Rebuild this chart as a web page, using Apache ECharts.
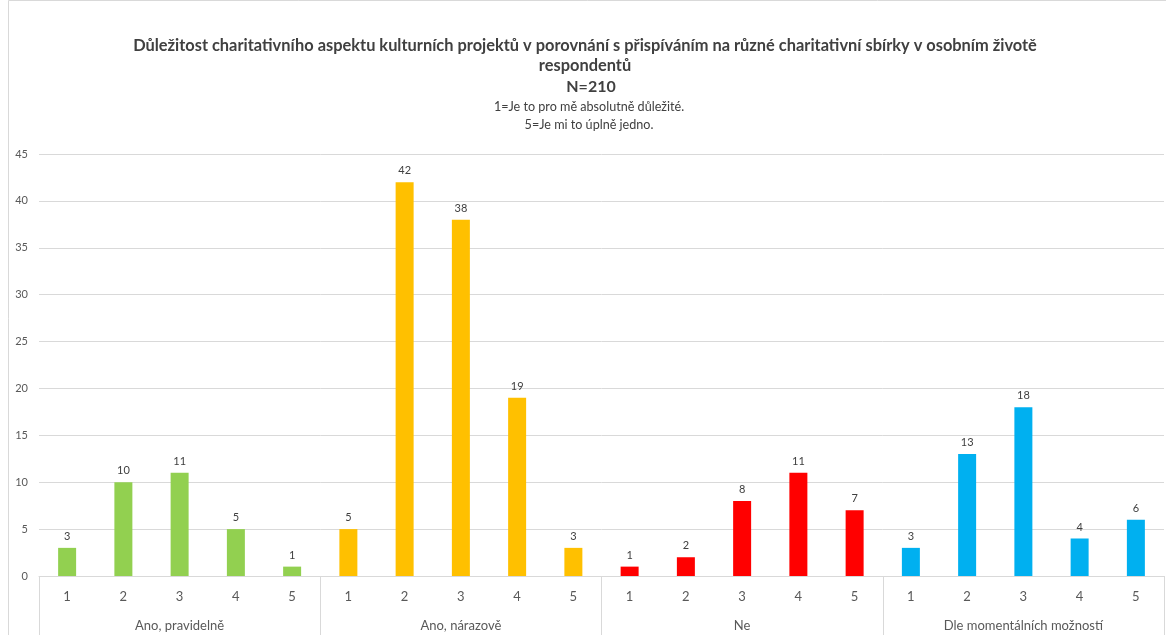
<!DOCTYPE html>
<html>
<head>
<meta charset="utf-8">
<script src="https://cdn.jsdelivr.net/npm/echarts@6/dist/echarts.min.js"></script>
<style>
  html, body { margin: 0; padding: 0; background: #fff; }
  #chart { width: 1166px; height: 635px; }
</style>
</head>
<body>
<div id="chart"></div>
<script>
// Rating categories (1 = absolutely important, 5 = don't care)
const ratings = ['1', '2', '3', '4', '5'];
// Groups: how often respondents contribute to charity collections
const groups = ['Ano, pravidelně', 'Ano, nárazově', 'Ne', 'Dle momentálních možností'];
const groupColors = ['#92d050', '#ffc000', '#ff0000', '#00b0f0'];

const pravidelne = [3, 10, 11, 5, 1];
const narazove = [5, 42, 38, 19, 3];
const ne = [1, 2, 8, 11, 7];
const dleMoznosti = [3, 13, 18, 4, 6];

const yTicks = { min: 0, max: 45, interval: 5 };

const groupValues = [pravidelne, narazove, ne, dleMoznosti];
const innerCats = [];
const barData = [];
groupValues.forEach((vals, gi) => {
  vals.forEach((v, i) => {
    innerCats.push(ratings[i]);
    barData.push({ value: v, itemStyle: { color: groupColors[gi] } });
  });
});

const FONT = 'Lato, "Open Sans", sans-serif';
const CX = 580;
const chart = echarts.init(document.getElementById('chart'), null, { renderer: 'canvas' });

chart.setOption({
  animation: false,
  backgroundColor: '#ffffff',
  textStyle: { fontFamily: FONT },
  title: [
    {
      text: 'Důležitost charitativního aspektu kulturních projektů v porovnání s přispíváním na různé charitativní sbírky v osobním životě\nrespondentů',
      left: CX, top: 31, textAlign: 'center',
      textStyle: { fontSize: 16.4, fontWeight: 'bold', color: '#404040', lineHeight: 20, fontFamily: FONT }
    },
    {
      text: 'N=210',
      left: CX + 6, top: 72, textAlign: 'center',
      textStyle: { fontSize: 16, fontWeight: 'bold', color: '#404040', lineHeight: 20, fontFamily: FONT }
    },
    {
      text: '1=Je to pro mě absolutně důležité.\n5=Je mi to úplně jedno.',
      left: CX + 4, top: 93, textAlign: 'center',
      textStyle: { fontSize: 12.6, fontWeight: 'normal', color: '#404040', lineHeight: 18, fontFamily: FONT }
    }
  ],
  graphic: [
    { type: 'rect', shape: { x: 8.5, y: 0.5, width: 1200, height: 700 }, style: { fill: 'none', stroke: '#d9d9d9', lineWidth: 1 }, silent: true }
  ],
  grid: { left: 39, right: 2, top: 154, bottom: 59, containLabel: false },
  xAxis: [
    {
      type: 'category',
      data: innerCats,
      position: 'bottom',
      axisLine: { show: true, lineStyle: { color: '#d9d9d9' } },
      axisTick: { show: false },
      axisLabel: { color: '#595959', fontSize: 13, margin: 14, interval: 0 }
    },
    {
      type: 'category',
      data: groups,
      position: 'bottom',
      axisLine: { show: false },
      axisTick: { show: true, length: 60, alignWithLabel: false, lineStyle: { color: '#d9d9d9' } },
      axisLabel: { color: '#595959', fontSize: 13, margin: 43, interval: 0 },
      splitLine: { show: false }
    }
  ],
  yAxis: {
    type: 'value',
    min: yTicks.min, max: yTicks.max, interval: yTicks.interval,
    axisLine: { show: false },
    axisTick: { show: false },
    axisLabel: { color: '#595959', fontSize: 11, margin: 11 },
    splitLine: { lineStyle: { color: '#d9d9d9' } }
  },
  series: [
    {
      type: 'bar',
      xAxisIndex: 0,
      data: barData,
      barWidth: 18,
      label: { show: true, position: 'top', color: '#404040', fontSize: 11, distance: 6 }
    }
  ]
});
</script>
</body>
</html>
